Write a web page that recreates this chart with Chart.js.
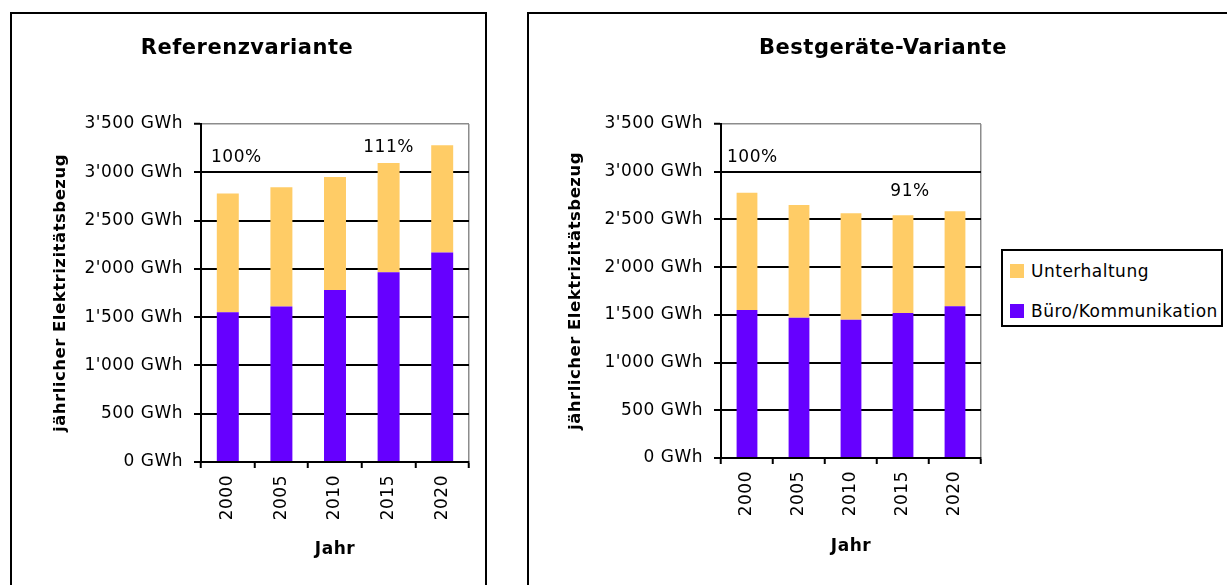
<!DOCTYPE html>
<html lang="de">
<head>
  <meta charset="UTF-8">
  <title>Elektrizitätsbezug: Referenzvariante und Bestgeräte-Variante</title>
  <script src="https://cdn.jsdelivr.net/npm/chart.js"></script>
  <style>
    html, body {
      margin: 0;
      padding: 0;
      background: #fff;
      overflow: hidden;
    }
    body {
      position: relative;
      width: 1227px;
      height: 585px;
      font-family: "DejaVu Sans", sans-serif;
    }
    .panel {
      position: absolute;
      top: 12px;
      height: 620px;
      border: 2px solid #000;
      background: #fff;
    }
    #panelLeft { left: 10px; width: 473px; }
    #panelRight { left: 527px; width: 720px; }
    .panel canvas { position: absolute; left: 0; top: 0; }
    #legend {
      position: absolute;
      left: 1001px;
      top: 249px;
      width: 218px;
      height: 74px;
      border: 2px solid #000;
      background: #fff;
    }
    .legend-item {
      display: flex;
      align-items: center;
      height: 40px;
      font-size: 17px;
      letter-spacing: 0.5px;
      color: #000;
      white-space: nowrap;
    }
    .legend-box {
      width: 14px;
      height: 14px;
      margin-left: 7px;
      margin-right: 7px;
    }
  </style>
</head>
<body>
  <div class="panel" id="panelLeft">
    <canvas id="chartRef" width="473" height="571"></canvas>
  </div>
  <div class="panel" id="panelRight">
    <canvas id="chartBest" width="698" height="571"></canvas>
  </div>
  <div id="legend"></div>

  <script>
    // Data (GWh)
    const years = ['2000', '2005', '2010', '2015', '2020'];
    const seriesNames = ['Büro/Kommunikation', 'Unterhaltung'];
    const seriesColors = ['#6600FF', '#FFCC66'];

    const refBuero = [1550, 1610, 1780, 1965, 2170];
    const refUnterhaltung = [1230, 1235, 1170, 1130, 1110];
    const bestBuero = [1550, 1470, 1450, 1520, 1590];
    const bestUnterhaltung = [1230, 1180, 1115, 1025, 995];

    const refShares = ['100%', '111%'];
    const bestShares = ['100%', '91%'];

    const yMax = 3500;
    const yStep = 500;

    const FONT = '"DejaVu Sans", sans-serif';
    Chart.defaults.font.family = FONT;
    Chart.defaults.color = '#000';

    const fmtGWh = v => String(v).replace(/\B(?=(\d{3})+(?!\d))/g, "'") + ' GWh';

    // the original text is drawn a little wide
    const spacing = {
      id: 'spacing',
      beforeDraw(chart) { chart.ctx.letterSpacing = '0.5px'; }
    };

    function titlePlugin(text, x, y) {
      return {
        id: 'panelTitle',
        afterDraw(chart) {
          const ctx = chart.ctx;
          ctx.save();
          ctx.font = 'bold 21px ' + FONT;
          ctx.fillStyle = '#000';
          ctx.textAlign = 'center';
          ctx.textBaseline = 'middle';
          ctx.fillText(text, x, y);
          ctx.restore();
        }
      };
    }

    // percentage labels; index null = left edge of plot
    function sharePlugin(items) {
      return {
        id: 'shares',
        afterDatasetsDraw(chart) {
          const { ctx, chartArea, scales } = chart;
          ctx.save();
          ctx.font = '17px ' + FONT;
          ctx.fillStyle = '#000';
          ctx.textBaseline = 'middle';
          items.forEach(it => {
            const py = scales.y.getPixelForValue(it.at);
            if (it.index === null) {
              ctx.textAlign = 'left';
              ctx.fillText(it.text, chartArea.left + it.dx, py);
            } else {
              ctx.textAlign = 'center';
              ctx.fillText(it.text, scales.x.getPixelForValue(it.index) + it.dx, py);
            }
          });
          ctx.restore();
        }
      };
    }

    function makeChart(id, o) {
      const ctx = document.getElementById(id).getContext('2d');
      return new Chart(ctx, {
        type: 'bar',
        data: {
          labels: years,
          datasets: [
            {
              label: seriesNames[0],
              data: o.buero,
              backgroundColor: seriesColors[0],
              borderWidth: 0,
              barPercentage: o.barPct,
              categoryPercentage: 1
            },
            {
              label: seriesNames[1],
              data: o.unterhaltung,
              backgroundColor: seriesColors[1],
              borderWidth: 0,
              barPercentage: o.barPct,
              categoryPercentage: 1
            }
          ]
        },
        options: {
          responsive: false,
          animation: false,
          devicePixelRatio: 1,
          layout: { padding: { left: 0, top: 110, right: o.padRight, bottom: 0 } },
          plugins: {
            legend: { display: false },
            tooltip: { enabled: false }
          },
          scales: {
            x: {
              stacked: true,
              afterFit: s => { s.height = o.xHeight; },
              ticks: {
                color: '#000',
                font: { size: 17 },
                minRotation: 90,
                maxRotation: 90,
                autoSkip: false,
                padding: 7
              },
              grid: {
                offset: true,
                color: c => c.type === 'tick' ? 'rgba(0,0,0,0)' : '#8c8c8c',
                lineWidth: 1.5,
                tickColor: '#000',
                tickLength: 6,
                tickWidth: 2
              },
              border: { color: '#000', width: 2 },
              title: {
                display: true,
                text: 'Jahr',
                color: '#000',
                font: { size: 17, weight: 'bold' },
                padding: { top: 0, bottom: o.xTitlePad }
              }
            },
            y: {
              stacked: true,
              min: 0,
              max: yMax,
              afterFit: s => { s.width = o.yWidth; },
              ticks: {
                stepSize: yStep,
                color: '#000',
                font: { size: 17 },
                padding: 11,
                callback: v => fmtGWh(v)
              },
              grid: {
                color: c => (c.tick && c.tick.value === yMax) ? '#8c8c8c' : '#000',
                lineWidth: c => (c.tick && c.tick.value === yMax) ? 1.5 : 2,
                tickColor: '#000',
                tickLength: 7,
                tickWidth: 2
              },
              border: { color: '#000', width: 2 },
              title: {
                display: true,
                text: 'jährlicher Elektrizitätsbezug',
                color: '#000',
                font: { size: 16.5, weight: 'bold' },
                padding: { top: o.yTitlePad, bottom: 0 }
              }
            }
          }
        },
        plugins: [spacing, titlePlugin(o.title, o.titleX, 35), sharePlugin(o.shares)]
      });
    }

    makeChart('chartRef', {
      title: 'Referenzvariante',
      titleX: 235,
      buero: refBuero,
      unterhaltung: refUnterhaltung,
      barPct: 0.41,
      padRight: 16,
      yWidth: 189,
      xHeight: 123,
      yTitlePad: 39,
      xTitlePad: 25,
      shares: [
        { text: refShares[0], index: null, dx: 10, at: 3150 },
        { text: refShares[1], index: 3, dx: 0, at: 3260 }
      ]
    });

    makeChart('chartBest', {
      title: 'Bestgeräte-Variante',
      titleX: 354,
      buero: bestBuero,
      unterhaltung: bestUnterhaltung,
      barPct: 0.40,
      padRight: 246,
      yWidth: 192,
      xHeight: 127,
      yTitlePad: 37,
      xTitlePad: 28,
      shares: [
        { text: bestShares[0], index: null, dx: 6, at: 3145 },
        { text: bestShares[1], index: 3, dx: 7, at: 2790 }
      ]
    });

    // legend, top series first
    const legend = document.getElementById('legend');
    [1, 0].forEach(i => {
      const row = document.createElement('div');
      row.className = 'legend-item';
      const box = document.createElement('span');
      box.className = 'legend-box';
      box.style.background = seriesColors[i];
      const label = document.createElement('span');
      label.textContent = seriesNames[i];
      row.appendChild(box);
      row.appendChild(label);
      legend.appendChild(row);
    });
  </script>
</body>
</html>
